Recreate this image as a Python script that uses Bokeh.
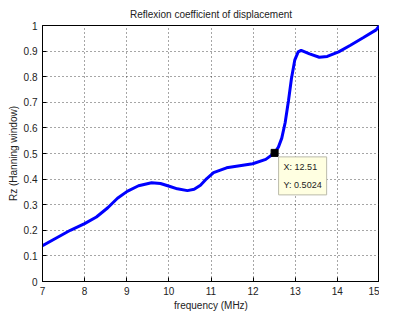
from bokeh.plotting import figure
from bokeh.models import Label, FixedTicker, Range1d, Title
from bokeh.embed import file_html
from bokeh.resources import INLINE

# ---- data ----
freq = [7.0, 7.35, 7.66, 8.0, 8.28, 8.55, 8.78, 9.01, 9.28, 9.59, 9.8, 10.01,
        10.2, 10.44, 10.6, 10.75, 10.9, 11.06, 11.37, 11.68, 11.99, 12.3, 12.51,
        12.6, 12.68, 12.76, 12.84, 12.91, 12.99, 13.07, 13.14, 13.34, 13.57,
        13.76, 14.03, 14.3, 14.61, 14.92, 15.0]
rz = [0.14, 0.172, 0.2, 0.226, 0.252, 0.288, 0.325, 0.352, 0.374, 0.386, 0.383, 0.372,
      0.362, 0.355, 0.36, 0.376, 0.402, 0.425, 0.444, 0.452, 0.46, 0.477, 0.5024,
      0.525, 0.56, 0.62, 0.707, 0.793, 0.866, 0.897, 0.903, 0.889, 0.876,
      0.879, 0.897, 0.922, 0.952, 0.983, 1.0]

tip_x = 12.51
tip_y = 0.5024

x_ticks = [7, 8, 9, 10, 11, 12, 13, 14, 15]
y_ticks = [0, 0.1, 0.2, 0.3, 0.4, 0.5, 0.6, 0.7, 0.8, 0.9, 1]
y_tick_labels = ["0", "0.1", "0.2", "0.3", "0.4", "0.5", "0.6", "0.7", "0.8", "0.9", "1"]

title_text = "Reflexion coefficient of displacement"
x_label = "frequency (MHz)"
y_label = "Rz (Hanning window)"

FONT = "Liberation Sans"

p = figure(width=379, height=313, output_backend="svg", toolbar_location=None,
           x_range=Range1d(7, 15), y_range=Range1d(0, 1),
           min_border_left=42, min_border_right=0, min_border_top=25, min_border_bottom=10)

p.title = Title(text=title_text, align="center", text_font=FONT, text_font_size="10px",
                text_font_style="normal", text_color="#222222", offset=0, standoff=11)
p.title.align = "center"

p.line(freq, rz, line_color="#0000ff", line_width=3)
p.scatter([tip_x], [tip_y], marker="square", size=7, fill_color="black", line_color="black")

tip = Label(x=tip_x, y=tip_y, x_offset=4, y_offset=-4,
            text="X: %.2f\nY: %.4f" % (tip_x, tip_y),
            text_font=FONT, text_font_size="9px", text_color="#222222",
            text_baseline="top", text_align="left", text_line_height=1.8,
            background_fill_color="#ffffe1", background_fill_alpha=1.0,
            border_line_color="#bbbbaa", border_line_width=1, padding=5)
p.add_layout(tip)

p.xaxis.ticker = FixedTicker(ticks=x_ticks)
p.yaxis.ticker = FixedTicker(ticks=y_ticks)
p.yaxis.major_label_overrides = {t: l for t, l in zip(y_ticks, y_tick_labels)}
p.xaxis.axis_label = x_label
p.yaxis.axis_label = y_label

for ax in (p.xaxis, p.yaxis):
    ax.major_label_text_font = FONT
    ax.major_label_text_font_size = "10px"
    ax.major_label_text_color = "#222222"
    ax.axis_label_text_font = FONT
    ax.axis_label_text_font_size = "10px"
    ax.axis_label_text_font_style = "normal"
    ax.axis_label_text_color = "#222222"
    ax.axis_line_color = "black"
    ax.major_tick_line_color = "black"
    ax.major_tick_in = 4
    ax.major_tick_out = 0
    ax.minor_tick_line_color = None
    ax.major_label_standoff = 5
    ax.axis_label_standoff = 2

p.grid.grid_line_color = "#222222"
p.grid.grid_line_dash = "1 3"
p.grid.grid_line_alpha = 0.8
p.grid.grid_line_width = 1
p.outline_line_color = "black"
p.outline_line_alpha = 1.0
p.background_fill_color = "white"
p.border_fill_color = "white"

open("out.html", "w").write(file_html(p, INLINE))
